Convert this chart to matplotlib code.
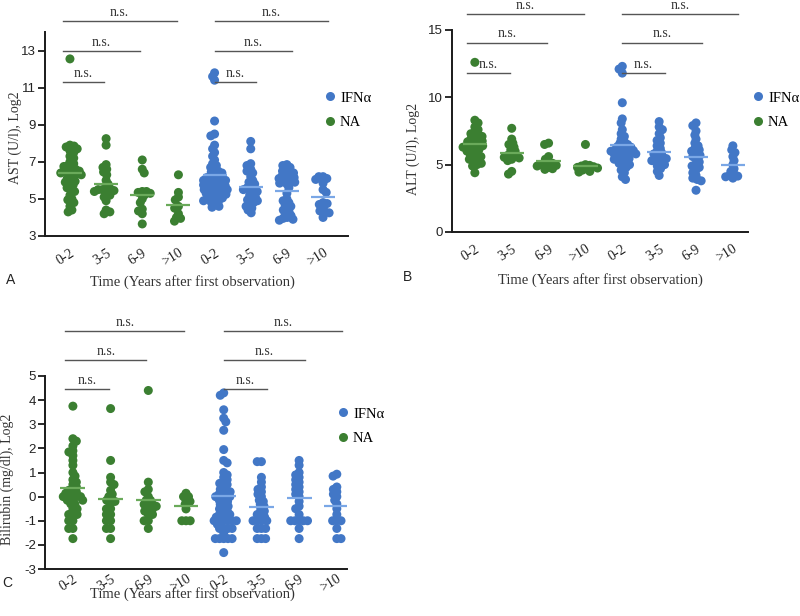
import numpy as np
import matplotlib
matplotlib.use("Agg")
import matplotlib.pyplot as plt
from matplotlib.lines import Line2D

# ---------------- data ----------------
categories = ["0-2", "3-5", "6-9", ">10"]
groups = ["NA", "IFNα"]

ast_na = [
    [12.55, 7.9, 7.85, 7.8, 7.7, 7.6, 7.5, 7.3, 7.2, 7.0, 6.9, 6.8, 6.75, 6.7, 6.6, 6.55, 6.5, 6.5,
     6.45, 6.4, 6.35, 6.3, 6.3, 6.2, 6.1, 6.0, 5.95, 5.9, 5.8, 5.75, 5.6, 5.5, 5.4, 5.2, 5.0, 4.95,
     4.8, 4.6, 4.4, 4.3],
    [8.25, 7.9, 6.85, 6.7, 6.6, 6.45, 6.3, 6.0, 5.8, 5.6, 5.55, 5.5, 5.5, 5.45, 5.4, 5.3, 5.2, 5.1,
     4.9, 4.4, 4.3, 4.2],
    [7.1, 6.6, 6.4, 5.4, 5.4, 5.35, 5.3, 5.2, 5.0, 4.8, 4.45, 4.35, 4.2, 3.65],
    [6.3, 5.35, 5.1, 4.95, 4.6, 4.5, 4.2, 4.0, 3.95, 3.8],
]
ast_ifn = [
    [11.8, 11.6, 11.4, 9.2, 8.5, 8.4, 7.9, 7.7, 7.5, 7.3, 7.1, 6.9, 6.8, 6.7, 6.6, 6.5, 6.45, 6.4,
     6.3, 6.25, 6.2, 6.15, 6.1, 6.05, 6.0, 6.0, 5.95, 5.9, 5.85, 5.8, 5.8, 5.75, 5.7, 5.65, 5.6, 5.6,
     5.55, 5.5, 5.5, 5.45, 5.4, 5.35, 5.3, 5.3, 5.25, 5.2, 5.15, 5.1, 5.05, 5.0, 4.95, 4.9, 4.85,
     4.8, 4.7, 4.6, 4.55],
    [8.1, 7.7, 6.9, 6.8, 6.6, 6.5, 6.4, 6.2, 6.0, 5.9, 5.8, 5.7, 5.6, 5.55, 5.5, 5.45, 5.4, 5.3,
     5.2, 5.1, 5.0, 4.95, 4.9, 4.8, 4.7, 4.6, 4.5, 4.4, 4.25],
    [6.85, 6.8, 6.7, 6.6, 6.5, 6.45, 6.4, 6.3, 6.25, 6.2, 6.15, 6.1, 6.05, 6.0, 5.95, 5.9, 5.85,
     5.8, 5.6, 5.3, 5.0, 4.9, 4.8, 4.7, 4.6, 4.5, 4.4, 4.3, 4.2, 4.1, 4.0, 3.95, 3.9, 3.85],
    [6.2, 6.2, 6.1, 6.05, 5.85, 5.5, 5.35, 4.8, 4.75, 4.7, 4.5, 4.35, 4.3, 4.25, 4.0],
]

alt_na = [
    [12.6, 8.3, 8.1, 7.8, 7.6, 7.4, 7.3, 7.2, 7.1, 7.0, 6.9, 6.8, 6.75, 6.7, 6.6, 6.5, 6.45, 6.4,
     6.35, 6.3, 6.2, 6.15, 6.1, 6.0, 5.9, 5.8, 5.7, 5.6, 5.5, 5.4, 5.3, 5.2, 5.1, 5.0, 4.9, 4.4],
    [7.7, 6.9, 6.6, 6.5, 6.3, 6.1, 6.0, 5.8, 5.7, 5.6, 5.55, 5.5, 5.4, 5.3, 4.5, 4.3],
    [6.6, 6.5, 5.6, 5.4, 5.2, 5.1, 5.0, 5.0, 4.95, 4.9, 4.8, 4.7, 4.65],
    [6.5, 5.0, 4.95, 4.9, 4.85, 4.8, 4.75, 4.7, 4.6, 4.5, 4.45],
]
alt_ifn = [
    [12.3, 12.1, 11.8, 9.6, 8.4, 8.1, 7.6, 7.3, 7.1, 6.9, 6.7, 6.6, 6.5, 6.4, 6.35, 6.3, 6.2, 6.15,
     6.1, 6.05, 6.0, 5.95, 5.9, 5.85, 5.8, 5.75, 5.7, 5.6, 5.5, 5.45, 5.4, 5.3, 5.2, 5.1, 5.0, 4.9,
     4.8, 4.6, 4.4, 4.1, 3.9],
    [8.2, 7.8, 7.6, 7.3, 7.0, 6.8, 6.6, 6.4, 6.2, 6.0, 5.9, 5.8, 5.7, 5.6, 5.5, 5.45, 5.4, 5.3,
     5.2, 5.1, 5.0, 4.9, 4.7, 4.5, 4.2],
    [8.1, 7.9, 7.5, 7.2, 6.9, 6.6, 6.4, 6.2, 6.1, 6.0, 5.8, 5.7, 5.6, 5.4, 5.2, 5.0, 4.9, 4.8,
     4.6, 4.4, 4.2, 4.0, 3.9, 3.8, 3.1],
    [6.4, 6.1, 5.9, 5.6, 5.3, 5.0, 4.7, 4.5, 4.3, 4.2, 4.15, 4.1, 4.0],
]

bil_na = [
    [3.75, 2.4, 2.3, 2.1, 1.9, 1.85, 1.7, 1.5, 1.3, 1.0, 0.85, 0.7, 0.6, 0.5, 0.4, 0.3, 0.26, 0.2,
     0.14, 0.1, 0.0, 0.0, 0.0, 0.0, -0.15, -0.15, -0.15, -0.3, -0.32, -0.5, -0.51, -0.74, -0.74,
     -0.74, -1.0, -1.0, -1.32, -1.32, -1.74],
    [3.65, 1.5, 0.8, 0.6, 0.5, 0.26, 0.1, 0.0, -0.15, -0.15, -0.2, -0.32, -0.5, -0.51, -0.74,
     -0.74, -1.0, -1.0, -1.32, -1.32, -1.74],
    [4.4, 0.6, 0.3, 0.2, 0.0, -0.15, -0.15, -0.32, -0.32, -0.32, -0.4, -0.51, -0.51, -0.6, -0.74,
     -0.74, -1.0, -1.0, -1.32],
    [0.14, 0.0, 0.0, -0.15, -0.2, -0.32, -0.51, -1.0, -1.0, -1.0],
]
bil_ifn = [
    [4.3, 4.2, 3.6, 3.25, 3.1, 2.75, 1.95, 1.5, 1.4, 1.0, 0.9, 0.8, 0.7, 0.6, 0.55, 0.5, 0.4, 0.3,
     0.26, 0.2, 0.14, 0.1, 0.0, 0.0, 0.0, -0.15, -0.15, -0.2, -0.32, -0.32, -0.4, -0.51, -0.51,
     -0.6, -0.74, -0.74, -0.74, -0.85, -1.0, -1.0, -1.0, -1.0, -1.0, -1.0, -1.15, -1.32, -1.32,
     -1.32, -1.32, -1.5, -1.74, -1.74, -1.74, -1.74, -1.74, -2.32],
    [1.45, 1.45, 0.8, 0.6, 0.4, 0.3, 0.2, 0.1, 0.0, -0.15, -0.2, -0.32, -0.4, -0.51, -0.6, -0.74,
     -0.74, -0.85, -1.0, -1.0, -1.0, -1.0, -1.32, -1.32, -1.32, -1.74, -1.74, -1.74],
    [1.5, 1.3, 1.0, 0.9, 0.8, 0.7, 0.6, 0.5, 0.4, 0.3, 0.2, 0.1, 0.0, -0.2, -0.4, -0.5, -0.74,
     -1.0, -1.0, -1.0, -1.0, -1.0, -1.32, -1.74],
    [0.93, 0.85, 0.4, 0.3, 0.2, 0.1, 0.0, -0.15, -0.3, -0.5, -0.74, -1.0, -1.0, -1.0, -1.32,
     -1.74, -1.74],
]

y_labels = ["AST (U/l), Log2", "ALT (U/l), Log2", "Bilirubin (mg/dl), Log2"]
x_label = "Time (Years after first observation)"
sig_text = "n.s."

# ---------------- style ----------------
SERIF = ["Liberation Serif", "DejaVu Serif"]
SANS = ["Liberation Sans", "DejaVu Sans"]
GREEN = "#3b7f31"
BLUE = "#4277c6"
GREEN_MEAN = "#6aaa5a"
BLUE_MEAN = "#7aa7e6"
SIG_COLOR = "#555555"

W, H = 800, 616
fig = plt.figure(figsize=(W / 100, H / 100), dpi=100)


def fig_rect(l, r, t, b):
    return [l / W, 1 - b / H, (r - l) / W, (b - t) / H]


def swarm(ax, xc, ys, sep_px):
    ys = np.asarray(ys, float)
    pts = ax.transData.transform(np.column_stack([np.full(len(ys), xc), ys]))
    ypx = pts[:, 1]
    xoff = np.zeros(len(ys))
    placed = []
    for n, i in enumerate(np.argsort(-ypx)):
        y = ypx[i]
        forb = []
        for xj, yj in placed:
            dy = abs(y - yj)
            if dy < sep_px:
                dx = np.sqrt(sep_px ** 2 - dy ** 2)
                forb.append((xj - dx, xj + dx))
        cands = [0.0] + [a for a, b in forb] + [b for a, b in forb]
        sgn = 1 if n % 2 else -1
        cands.sort(key=lambda c: (round(abs(c), 6), sgn * c))
        for c in cands:
            if all(not (a + 1e-6 < c < b - 1e-6) for a, b in forb):
                xoff[i] = c
                break
        placed.append((xoff[i], y))
    xs = ax.transData.inverted().transform(np.column_stack([pts[:, 0] + xoff, ypx]))[:, 0]
    return xs


panels = [
    dict(rect=fig_rect(45, 348, 32, 236), xlim=(-0.69, 7.69), ylim=(3, 14),
         yticks=[3, 5, 7, 9, 11, 13], data=(ast_na, ast_ifn), ylabel=y_labels[0],
         sig_y=[14.6, 12.95, 11.3], ylab_pos=(-0.076, 0.48), xlab_pos=(0.485, -0.19),
         letter="A", letter_px=(11, 280), leg_px=(330, 110), xpad=7.5),
    dict(rect=fig_rect(452, 748, 30, 232), xlim=(-0.62, 7.41), ylim=(0, 15),
         yticks=[0, 5, 10, 15], data=(alt_na, alt_ifn), ylabel=y_labels[1],
         sig_y=[16.2, 14.07, 11.8], ylab_pos=(-0.108, 0.41), xlab_pos=(0.5, -0.203),
         letter="B", letter_px=(407, 277), leg_px=(758, 110), xpad=7.5),
    dict(rect=fig_rect(45, 347, 376, 569), xlim=(-0.74, 7.27), ylim=(-3, 5),
         yticks=list(range(-3, 6)), data=(bil_na, bil_ifn), ylabel=y_labels[2],
         sig_y=[6.87, 5.66, 4.46], ylab_pos=(-0.103, 0.466), xlab_pos=(0.487, -0.095),
         letter="C", letter_px=(7, 583), leg_px=(343, 426), xpad=2.5),
]

positions = np.arange(8)
tick_labels = categories + categories

for p in panels:
    ax = fig.add_axes(p["rect"])
    ax.set_xlim(*p["xlim"])
    ax.set_ylim(*p["ylim"])
    for s in ["top", "right"]:
        ax.spines[s].set_visible(False)
    for s in ["left", "bottom"]:
        ax.spines[s].set_linewidth(1.4)
        ax.spines[s].set_color("#1a1a1a")
    ax.set_yticks(p["yticks"])
    ax.set_yticklabels([str(t) for t in p["yticks"]], fontfamily=SANS, fontsize=9.5,
                       color="#222222")
    ax.tick_params(axis="y", length=5, width=1.3, color="#1a1a1a", pad=1.5)
    ax.set_xticks(positions)
    ax.set_xticklabels(tick_labels, rotation=32, ha="right", va="top",
                       rotation_mode="anchor", fontfamily=SERIF, fontsize=10, color="#222222")
    ax.tick_params(axis="x", length=0, pad=p["xpad"])

    na_vals, ifn_vals = p["data"]
    for g, (vals_list, col, mcol) in enumerate([(na_vals, GREEN, GREEN_MEAN),
                                                  (ifn_vals, BLUE, BLUE_MEAN)]):
        for k, vals in enumerate(vals_list):
            xc = positions[g * 4 + k]
            xs = swarm(ax, xc, vals, 4.2)
            ax.scatter(xs, vals, s=42, color=col, edgecolors="none", zorder=2, clip_on=False)
            ax.hlines(np.mean(vals), xc - 0.33, xc + 0.33, color=mcol, lw=1.6, zorder=3)

    # significance bars
    for g in range(2):
        base = g * 4
        start = base - 0.2 if g == 0 else base + 0.0
        end_shift = -0.05 if g == 0 else 0.15
        for lvl, j in enumerate([3, 2, 1]):
            y = p["sig_y"][lvl]
            x1, x2 = start, base + j + end_shift
            ax.plot([x1, x2], [y, y], color=SIG_COLOR, lw=1.0, clip_on=False, zorder=4)
            ax.annotate(sig_text, xy=((x1 + x2) / 2, y), xytext=(0, 1.5),
                        textcoords="offset points", ha="center", va="bottom",
                        fontfamily=SERIF, fontsize=10, color="#333333", annotation_clip=False)

    ax.set_ylabel(p["ylabel"], fontfamily=SERIF, fontsize=10, color="#333333")
    ax.yaxis.set_label_coords(*p["ylab_pos"])
    ax.set_xlabel(x_label, fontfamily=SERIF, fontsize=10.5, color="#333333")
    ax.xaxis.set_label_coords(*p["xlab_pos"])

    handles = [Line2D([], [], ls="none", marker="o", markersize=6.5, color=BLUE, mec="none"),
               Line2D([], [], ls="none", marker="o", markersize=6.5, color=GREEN, mec="none")]
    lx, ly = p["leg_px"]
    ax.legend(handles, ["IFNα", "NA"], loc="center left",
              bbox_to_anchor=((lx - 6) / W, 1 - ly / H), bbox_transform=fig.transFigure,
              frameon=False, borderpad=0, borderaxespad=0, handlelength=0.8,
              handletextpad=0.3, labelspacing=0.75,
              prop=dict(family=SERIF, size=10.5))

    lxp, lyp = p["letter_px"]
    fig.text(lxp / W, 1 - lyp / H, p["letter"], fontfamily=SANS, fontsize=10,
             ha="center", va="center", color="#222222")

fig.savefig("out.png", dpi=100)
